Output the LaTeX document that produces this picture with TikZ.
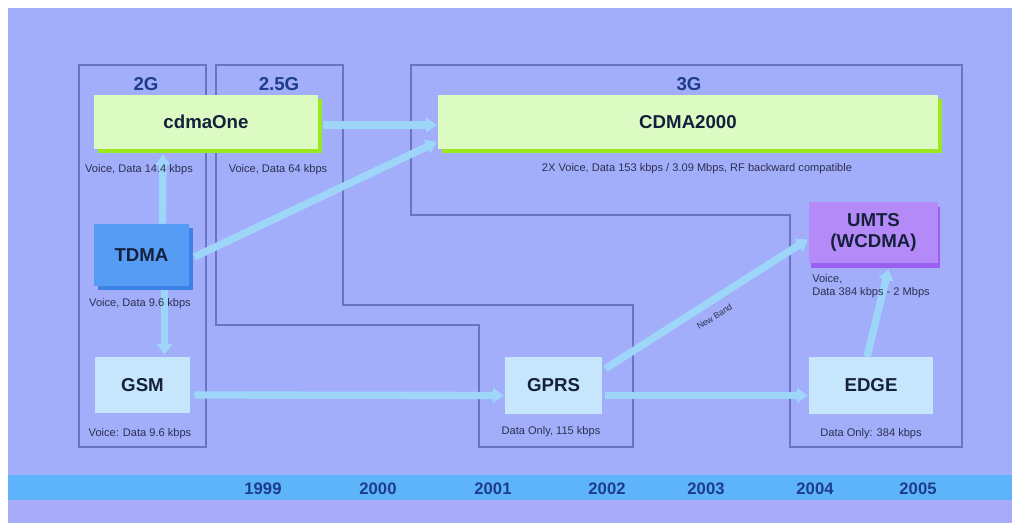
\documentclass[tikz,border=0pt]{standalone}
\usepackage{fontspec}
\setmainfont{Liberation Sans}
\usetikzlibrary{arrows.meta,calc,shadows}
\definecolor{bgc}{HTML}{A3AEFA}
\definecolor{bgl}{HTML}{A8ACF8}
\definecolor{bandc}{HTML}{5EB4FA}
\definecolor{framec}{HTML}{6A72C4}
\definecolor{arrc}{HTML}{9ED6FA}
\definecolor{greenf}{HTML}{DCFBC2}
\definecolor{greens}{HTML}{9BE81E}
\definecolor{tdmaf}{HTML}{579CF4}
\definecolor{tdmas}{HTML}{3D80E6}
\definecolor{lbf}{HTML}{C6E6FE}
\definecolor{umtsf}{HTML}{B48AF8}
\definecolor{umtss}{HTML}{9A5EF0}
\definecolor{navy}{HTML}{1E3C8C}
\definecolor{txt}{HTML}{14203C}
\definecolor{smallc}{HTML}{2A3050}
\tikzset{
  frame/.style={draw=framec,line width=0.8pt},
  box/.style={rectangle,inner sep=0pt,align=center,font=\fontsize{14}{16}\selectfont\bfseries,text=txt},
  greenbox/.style={box,fill=greenf,drop shadow={shadow xshift=3pt,shadow yshift=-3pt,fill=greens,opacity=1}},
  tdmabox/.style={box,fill=tdmaf,drop shadow={shadow xshift=3pt,shadow yshift=-3pt,fill=tdmas,opacity=1}},
  lbbox/.style={box,fill=lbf},
  umtsbox/.style={box,fill=umtsf,drop shadow={shadow xshift=1.5pt,shadow yshift=-3.5pt,fill=umtss,opacity=1}},
  small/.style={font=\fontsize{8.3}{10}\selectfont,text=smallc,inner sep=0pt},
  gen/.style={font=\fontsize{14}{16}\selectfont\bfseries,text=navy,inner sep=0pt},
  year/.style={font=\fontsize{12.5}{14}\selectfont\bfseries,text=navy,inner sep=0pt},
  arr/.style={draw=arrc,line width=5.5pt,-{Triangle[width=11pt,length=8pt]}},
}
\begin{document}
\begin{tikzpicture}[x=0.75pt,y=-0.75pt]
\useasboundingbox (0,0) rectangle (1018,523);
\fill[white] (0,0) rectangle (1018,523);
\fill[bgc] (8,8) rectangle (1012,523);
\fill[bgl] (8,500) rectangle (1012,523);
\fill[bandc] (8,475) rectangle (1012,500);
% frames
\draw[frame] (79,65) rectangle (206,447);
\draw[frame] (216,65) -- (343,65) -- (343,305) -- (633,305) -- (633,447) -- (479,447) -- (479,325) -- (216,325) -- cycle;
\draw[frame] (411,65) -- (962,65) -- (962,447) -- (790,447) -- (790,215) -- (411,215) -- cycle;
\node[gen] (g2) at (146,84) {2G};
\node[gen] (g25) at (279,84) {2.5G};
\node[gen] (g3) at (689,84) {3G};
% nodes
\node[greenbox,minimum width=168pt,minimum height=40.5pt] (cdmaone) at (206,122) {cdmaOne};
\node[greenbox,minimum width=375pt,minimum height=40.5pt] (cdma2k) at (688,122) {CDMA2000};
\node[tdmabox,minimum width=71.25pt,minimum height=46.5pt] (tdma) at (141.5,255) {TDMA};
\node[lbbox,minimum width=71.25pt,minimum height=42pt] (gsm) at (142.5,385) {GSM};
\node[lbbox,minimum width=72.75pt,minimum height=42.75pt] (gprs) at (553.5,385.5) {GPRS};
\node[lbbox,minimum width=93pt,minimum height=42.75pt] (edge) at (871,385.5) {EDGE};
\node[umtsbox,minimum width=96.75pt,minimum height=45.75pt] (umts) at (873.5,232.5) {UMTS\\(WCDMA)};
% connectors
\draw[arr] ($(cdmaone.east)+(5,3)$) -- ($(cdma2k.west)+(-1,3)$);
\draw[arr] ($(tdma.east)+(5,2)$) -- ($(cdma2k.west)+(-1,20)$);
\draw[arr] ($(tdma.north)+(21,0)$) -- ($(cdmaone.south)+(-43,5)$);
\draw[arr] ($(tdma.south)+(23,4)$) -- ($(gsm.north)+(22,-2)$);
\draw[arr] ($(gsm.east)+(4,10)$) -- ($(gprs.west)+(-1,10)$);
\draw[arr] ($(gprs.east)+(3,10)$) -- ($(edge.west)+(-1,10)$);
\draw[arr] ($(gprs.north east)+(3,12)$) -- node[pos=0.5,below,sloped,small,yshift=-6pt,font=\fontsize{6.5}{8}\selectfont] (nb) {New Band} ($(umts.west)+(-1,7)$);
\draw[arr] ($(edge.north)+(-4,0)$) -- ($(umts.south)+(15,6)$);
% labels
\node[small] (l1) at (139,170) {Voice, Data 14.4 kbps};
\node[small] (l2) at (278,170) {Voice, Data 64 kbps};
\node[small] (l3) at (697,169) {2X Voice, Data 153 kbps / 3.09 Mbps, RF backward compatible};
\node[small] (l4) at (140,304) {Voice, Data 9.6 kbps};
\node[small] (l5) at (140,434) {Voice: Data 9.6 kbps};
\node[small] (l6) at (551,432) {Data Only, 115 kbps};
\node[small] (l7) at (871,434) {Data Only: 384 kbps};
\node[small,align=left,anchor=west] (l8) at (812,286) {Voice,\\Data 384 kbps - 2 Mbps};
% years
\node[year] (y1) at (263,489) {1999};
\node[year] (y2) at (378,489) {2000};
\node[year] (y3) at (493,489) {2001};
\node[year] (y4) at (607,489) {2002};
\node[year] (y5) at (706,489) {2003};
\node[year] (y6) at (815,489) {2004};
\node[year] (y7) at (918,489) {2005};
\end{tikzpicture}
\end{document}
